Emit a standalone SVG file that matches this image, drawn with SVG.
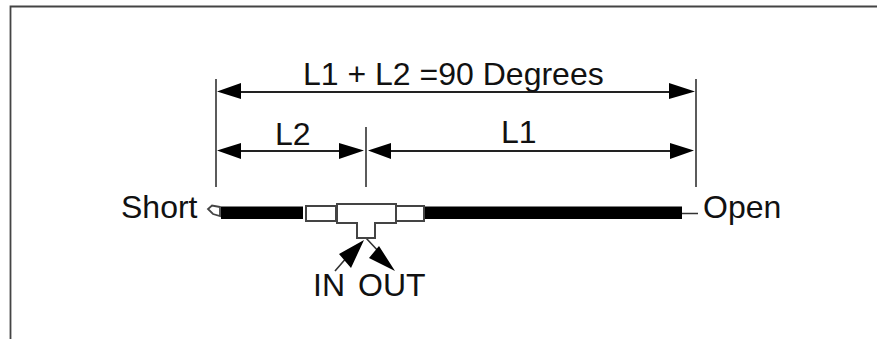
<svg xmlns="http://www.w3.org/2000/svg" width="877" height="339" viewBox="0 0 877 339">
<style>
text{font-family:"Liberation Sans",Arial,sans-serif;font-size:32px;fill:#111}
.l{stroke:#333;stroke-width:1.6;fill:none}
.d{stroke:#222;stroke-width:2;fill:none}
.a{fill:#000}
.b{fill:#fff;stroke:#444;stroke-width:2}
</style>
<rect width="877" height="339" fill="#fff"/>
<path d="M10.500 339V6.500H877" fill="none" stroke="#444" stroke-width="1.800"/>
<g id="connectors">
<path class="l" d="M216 79V187M696 79V187M366 127V187"/>
<path class="d" d="M240 92H672M240 151H342M390 151H672"/>
<path class="a" d="M217 91.500L241 83V99ZM695 91.500L669 83V99ZM217 150.500L241 143V159ZM364 150.500L339 143V159ZM368 150.500L391 143V159ZM694 150.500L670 143V159Z"/>
<path class="l" d="M335 271L348 256M366 238L380 253M682 213.500H698"/>
<path class="a" d="M364 240L339 254L351 268ZM395 271L379 246L369 258Z"/>
</g>
<g id="line-left"><rect x="221" y="206.500" width="82" height="12.500" fill="#000"/><path d="M220 207L212 205.500L208 209L213 214L220 216Z" fill="#fff" stroke="#444" stroke-width="1.800"/></g>
<g id="line-right"><rect x="424" y="206.500" width="258" height="12.500" fill="#000"/></g>
<g id="tee">
<rect class="b" x="306" y="206" width="30" height="15"/>
<rect class="b" x="396" y="206" width="28" height="15"/>
<path class="b" d="M337 204H396V223H375V238H357V223H337Z"/>
</g>
<g id="labels">
<text x="303" y="85">L1 + L2 =90 Degrees</text>
<text x="275" y="145">L2</text>
<text x="501" y="143">L1</text>
<text x="121" y="218">Short</text>
<text x="703" y="218">Open</text>
<text x="313" y="296">IN</text>
<text x="358" y="296">OUT</text>
</g>
</svg>
